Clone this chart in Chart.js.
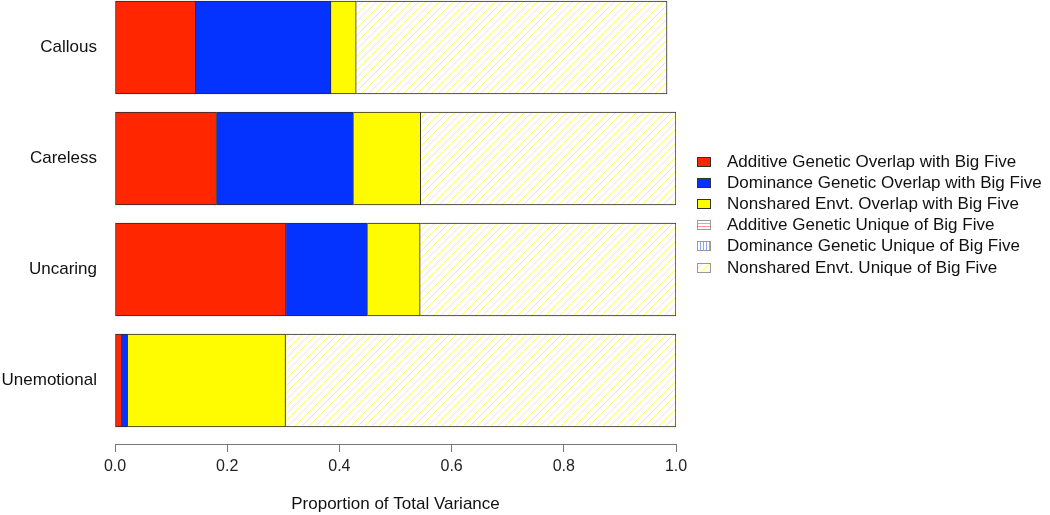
<!DOCTYPE html>
<html>
<head>
<meta charset="utf-8">
<script src="https://cdn.jsdelivr.net/npm/chart.js@4.4.1/dist/chart.umd.min.js"></script>
<style>
  html, body { margin: 0; padding: 0; background: #fff; }
</style>
</head>
<body>
<canvas id="myChart" width="1050" height="515"></canvas>
<script>
// traits, top to bottom, and where they sit on the y axis
var traits = ['Callous', 'Careless', 'Uncaring', 'Unemotional'];
var traitPos = [1, 2, 3, 4];

// proportions of total variance per component
var addOverlap = [0.144, 0.181, 0.305, 0.0125];
var domOverlap = [0.241, 0.244, 0.145, 0.010];
var nseOverlap = [0.045, 0.120, 0.094, 0.2815];
var addUnique  = [0, 0, 0, 0];
var domUnique  = [0, 0, 0, 0];
var nseUnique  = [0.554, 0.455, 0.456, 0.696];

var xTicks = [0, 0.2, 0.4, 0.6, 0.8, 1.0];

var RED = 'rgb(255, 38, 0)';
var BLUE = 'rgb(4, 51, 255)';
var YELLOW = 'rgb(255, 251, 0)';

// hatch patterns for the "unique" parts
function hatch(kind, color) {
    var c = document.createElement('canvas');
    var s = kind === 'diag' ? 7 : 3;
    c.width = s; c.height = s;
    var g = c.getContext('2d');
    g.fillStyle = '#fff';
    g.fillRect(0, 0, s, s);
    g.strokeStyle = color;
    g.lineWidth = 1;
    g.beginPath();
    if (kind === 'diag') {
        g.moveTo(-1, s + 1); g.lineTo(s + 1, -1);
        g.moveTo(-1, 1); g.lineTo(1, -1);
        g.moveTo(s - 1, s + 1); g.lineTo(s + 1, s - 1);
    } else if (kind === 'h') {
        g.moveTo(0, 1.5); g.lineTo(s, 1.5);
    } else {
        g.moveTo(1.5, 0); g.lineTo(1.5, s);
    }
    g.stroke();
    return g.createPattern(c, 'repeat');
}

function pts(vals) {
    return vals.map(function (v, i) { return { x: v, y: traitPos[i] }; });
}

function ds(label, vals, fill, first) {
    return {
        label: label,
        data: pts(vals),
        backgroundColor: fill,
        borderColor: '#2a2a2a',
        borderWidth: 1,
        borderSkipped: first ? false : 'start',
        barThickness: 93,
        grouped: false
    };
}

// legend drawn to the right of the plot, R style
var sideLegend = {
    id: 'sideLegend',
    afterDraw: function (chart) {
        var ctx = chart.ctx;
        var x0 = chart.chartArea.right + 21;
        ctx.save();
        ctx.font = '17px "Liberation Sans", Arial, sans-serif';
        ctx.textBaseline = 'middle';
        chart.data.datasets.forEach(function (d, i) {
            var y = Math.round(161.5 + i * 21.2);
            ctx.fillStyle = d.backgroundColor;
            ctx.fillRect(x0, y - 5, 14, 10);
            ctx.strokeStyle = i < 3 ? '#333' : '#999';
            ctx.lineWidth = 1;
            ctx.strokeRect(x0 + 0.5, y - 4.5, 13, 9);
            ctx.fillStyle = '#111';
            ctx.fillText(d.label, x0 + 30, y);
        });
        ctx.restore();
    }
};

Chart.defaults.font.family = '"Liberation Sans", Arial, Helvetica, sans-serif';

var ctx = document.getElementById('myChart').getContext('2d');
var chart = new Chart(ctx, {
    type: 'bar',
    data: {
        datasets: [
            ds('Additive Genetic Overlap with Big Five', addOverlap, RED, true),
            ds('Dominance Genetic Overlap with Big Five', domOverlap, BLUE),
            ds('Nonshared Envt. Overlap with Big Five', nseOverlap, YELLOW),
            ds('Additive Genetic Unique of Big Five', addUnique, hatch('h', 'rgba(255, 38, 0, 0.45)')),
            ds('Dominance Genetic Unique of Big Five', domUnique, hatch('v', 'rgba(4, 51, 255, 0.45)')),
            ds('Nonshared Envt. Unique of Big Five', nseUnique, hatch('diag', 'rgba(255, 240, 0, 0.55)'))
        ]
    },
    options: {
        indexAxis: 'y',
        responsive: false,
        animation: false,
        devicePixelRatio: 1,
        layout: { padding: { left: 0, right: 374, top: 0, bottom: 0 } },
        plugins: {
            legend: { display: false },
            tooltip: { enabled: false }
        },
        scales: {
            x: {
                type: 'linear',
                stacked: true,
                min: 0,
                max: 1,
                afterBuildTicks: function (s) { s.ticks = xTicks.map(function (v) { return { value: v }; }); },
                afterFit: function (s) { s.height = 71; },
                grid: { display: true, drawOnChartArea: false, drawTicks: true, tickLength: 8, color: '#777' },
                border: { display: true, color: '#777' },
                ticks: {
                    padding: 5,
                    color: '#222',
                    font: { size: 16 },
                    maxRotation: 0,
                    callback: function (v) { return v.toFixed(1); }
                },
                title: {
                    display: true,
                    text: 'Proportion of Total Variance',
                    color: '#111',
                    font: { size: 17 },
                    padding: { top: 0, bottom: 0 }
                }
            },
            y: {
                type: 'linear',
                offset: false,
                reverse: true,
                min: 0.572,
                max: 4.572,
                afterBuildTicks: function (s) { s.ticks = traitPos.map(function (p) { return { value: p }; }); },
                afterFit: function (s) { s.width = 115; s.paddingTop = 0; s.paddingBottom = 0; },
                grid: { display: false, drawTicks: false, offset: false },
                border: { display: false },
                ticks: {
                    padding: 18,
                    color: '#111',
                    font: { size: 17 },
                    callback: function (v, i) { return traits[i]; }
                }
            }
        }
    },
    plugins: [sideLegend]
});
</script>
</body>
</html>
